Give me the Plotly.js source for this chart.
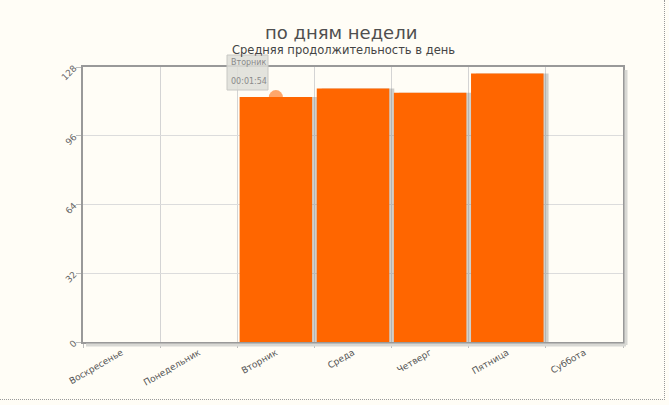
<!DOCTYPE html>
<html><head><meta charset="utf-8">
<script src="https://cdn.plot.ly/plotly-3.0.1.min.js"></script>
<style>
html,body{margin:0;padding:0;background:#fffdf6;}
#frame{position:absolute;left:0;top:0;width:664px;height:399px;border-right:1px dotted #999;border-bottom:1px dotted #999;}
#chart{position:absolute;left:0;top:0;width:669px;height:405px;}
</style></head>
<body><div id="frame"></div><div id="chart"></div>
<script>
var days = ["Воскресенье","Понедельник","Вторник","Среда","Четверг","Пятница","Суббота"];
var seconds = [0, 0, 114, 118, 116, 125, 0];
var yTicks = [0, 32, 64, 96, 128];
var tipDay = "Вторник";
var tipValue = 114;
var tipLines = ["Вторник", "00:01:54"];

var W = 540, H = 275;
var shadow = {
  type: 'bar', x: days, y: seconds, marker: {color: 'rgba(120,120,120,0.35)', line: {width: 0}},
  offset: -0.5 + 0.03 + 5/77, width: 0.94, hoverinfo: 'skip', showlegend: false
};
var bars = {
  type: 'bar', x: days, y: seconds, marker: {color: '#ff6600', line: {width: 0}},
  offset: -0.5 + 0.03, width: 0.94, hoverinfo: 'skip', showlegend: false
};
function py(pix){ return 1 - (pix - 67)/H; }
function px(pix){ return (pix - 83)/W; }
var layout = {
  width: 669, height: 405,
  margin: {l: 83, r: 46, t: 67, b: 63},
  paper_bgcolor: 'rgba(0,0,0,0)', plot_bgcolor: '#fffdf6',
  font: {family: 'DejaVu Sans, Verdana, sans-serif', color: '#555', size: 9},
  barmode: 'overlay',
  showlegend: false,
  title: {text: 'по дням недели', x: 0.51, xanchor: 'center', y: 1 - 33/405, yanchor: 'middle',
          font: {size: 18, color: '#4f4f4f', family: 'DejaVu Sans, sans-serif', weight: 'normal'}},
  annotations: [
    {text: 'Средняя продолжительность в день', xref: 'paper', yref: 'paper', x: 0.482, y: py(50),
     xanchor: 'center', yanchor: 'middle', showarrow: false, font: {size: 11.5, color: '#444'}},
    {text: tipLines[0], xref: 'paper', yref: 'paper', x: px(229), y: py(63), xanchor: 'left', yanchor: 'middle',
     showarrow: false, font: {size: 8, color: '#8a8a8a'}},
    {text: tipLines[1], xref: 'paper', yref: 'paper', x: px(229), y: py(81), xanchor: 'left', yanchor: 'middle',
     showarrow: false, font: {size: 8, color: '#8a8a8a'}}
  ],
  shapes: [
    {type: 'circle', layer: 'below', xref: 'x', yref: 'y', xsizemode: 'pixel', ysizemode: 'pixel',
     xanchor: tipDay, yanchor: tipValue, x0: -7, x1: 7, y0: -7, y1: 7,
     fillcolor: 'rgba(255,150,80,0.85)', line: {width: 0}},
    {type: 'rect', xref: 'paper', yref: 'paper', x0: px(227), x1: px(268), y0: py(90), y1: py(55),
     fillcolor: 'rgba(222,222,216,0.85)', line: {color: '#c8c8c4', width: 1}},
    {type: 'line', xref: 'paper', yref: 'paper', x0: 1 + 3/W, x1: 1 + 3/W, y0: -3/H, y1: 1 - 3/H,
     line: {color: '#d8d8d4', width: 3}},
    {type: 'line', xref: 'paper', yref: 'paper', x0: 3/W, x1: 1 + 3/W, y0: -3/H, y1: -3/H,
     line: {color: '#d8d8d4', width: 3}}
  ],
  xaxis: {
    type: 'category', tickson: 'boundaries', showgrid: true, gridcolor: '#d4d4d4', gridwidth: 1,
    showline: true, mirror: true, linecolor: '#999', linewidth: 2,
    ticks: 'outside', ticklen: 4, tickcolor: '#bbb', tickangle: -30,
    tickfont: {size: 9, color: '#555'}, range: [-0.5, 6.5], fixedrange: true
  },
  yaxis: {
    range: [0, 128], tickvals: yTicks, ticktext: yTicks.map(String),
    showgrid: true, gridcolor: '#dcdcdc', gridwidth: 1, zeroline: false,
    showline: true, mirror: true, linecolor: '#999', linewidth: 2,
    ticks: 'outside', ticklen: 5, tickcolor: '#bbb', tickangle: -45,
    tickfont: {size: 9, color: '#666'}
  }
};
Plotly.newPlot('chart', [shadow, bars], layout, {displayModeBar: false, staticPlot: true});
</script></body></html>
